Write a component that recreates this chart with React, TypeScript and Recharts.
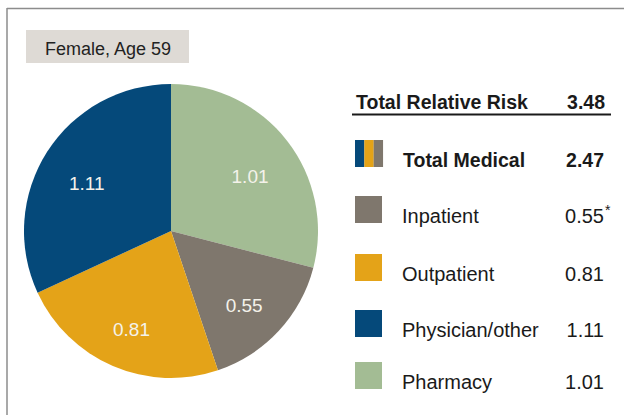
import React from "react";
import { PieChart, Pie, Cell } from "recharts";

const categories = ["Pharmacy", "Inpatient", "Outpatient", "Physician/other"];
const values = [1.01, 0.55, 0.81, 1.11];
const colors = ["#a3bc94", "#7f776d", "#e4a318", "#05497a"];
const legendOrder = ["Inpatient", "Outpatient", "Physician/other", "Pharmacy"];
const totalLabel = "Total Relative Risk";
const totalValue = "3.48";
const medicalLabel = "Total Medical";
const medicalValue = "2.47";
const medicalParts = ["Physician/other", "Outpatient", "Inpatient"];
const title = "Female, Age 59";

const data = categories.map((name, i) => ({ name, value: values[i] }));
const RAD = Math.PI / 180;
const FONT = "'Liberation Sans', Arial, Helvetica, sans-serif";

const renderLabel = (p: any) => {
  const r = p.outerRadius * 0.68;
  const x = p.cx + r * Math.cos(-p.midAngle * RAD);
  const y = p.cy + r * Math.sin(-p.midAngle * RAD);
  return (
    <text
      x={x}
      y={y + 13}
      fill="#f4f2ea"
      textAnchor="middle"
      fontSize={19}
      fontFamily={FONT}
    >
      {p.value.toFixed(2)}
    </text>
  );
};

export default function App() {
  const colorOf = (n: string) => colors[categories.indexOf(n)];
  const valueOf = (n: string) => values[categories.indexOf(n)];
  return (
    <div style={{ position: "relative", width: 624, height: 415, background: "#fff" }}>
      <style>{`body{margin:0}`}</style>
      <svg
        width={624}
        height={415}
        style={{ position: "absolute", left: 0, top: 0 }}
      >
        <line x1={7} y1={8.5} x2={624} y2={8.5} stroke="#8c8c8c" strokeWidth={1.5} />
        <line x1={7} y1={8} x2={7} y2={415} stroke="#8c8c8c" strokeWidth={1.5} />
        <rect x={26} y={30} width={163} height={33} fill="#dedad5" />
        <text x={45} y={55} fontSize={18} fontFamily={FONT} fill="#222">
          {title}
        </text>
      </svg>
      <div style={{ position: "absolute", left: 0, top: 0 }}>
        <PieChart width={624} height={415} margin={{ top: 0, right: 0, bottom: 0, left: 0 }}>
          <Pie
            data={data}
            dataKey="value"
            nameKey="name"
            cx={171}
            cy={231}
            outerRadius={147}
            startAngle={90}
            endAngle={-270}
            stroke="none"
            labelLine={false}
            label={renderLabel}
            isAnimationActive={false}
          >
            {data.map((d, i) => (
              <Cell key={d.name} fill={colors[i]} />
            ))}
          </Pie>
        </PieChart>
      </div>
      <svg
        width={624}
        height={415}
        style={{ position: "absolute", left: 0, top: 0 }}
        fontFamily={FONT}
      >
        <text x={356} y={109} fontSize={19.5} fontWeight="bold" fill="#1a1a1a">
          {totalLabel}
        </text>
        <text x={605} y={109} fontSize={19.5} fontWeight="bold" fill="#1a1a1a" textAnchor="end">
          {totalValue}
        </text>
        <line x1={352} y1={114.5} x2={611} y2={114.5} stroke="#1a1a1a" strokeWidth={2} />
        {medicalParts.map((n, i) => (
          <rect key={n} x={355 + i * 9.33} y={140} width={9.4} height={27} fill={colorOf(n)} />
        ))}
        <text x={403} y={167} fontSize={19.5} fontWeight="bold" fill="#1a1a1a">
          {medicalLabel}
        </text>
        <text x={604} y={167} fontSize={19.5} fontWeight="bold" fill="#1a1a1a" textAnchor="end">
          {medicalValue}
        </text>
        {legendOrder.map((n, i) => {
          const bottom = [223, 281, 337, 389][i];
          return (
            <g key={n}>
              <rect x={355} y={bottom - 27} width={27} height={27} fill={colorOf(n)} />
              <text x={402} y={bottom} fontSize={20} fill="#1a1a1a">
                {n}
              </text>
              <text x={604} y={bottom} fontSize={20} fill="#1a1a1a" textAnchor="end">
                {valueOf(n).toFixed(2)}
              </text>
              {n === "Inpatient" ? (
                <text x={605} y={bottom - 8} fontSize={14} fill="#1a1a1a">
                  *
                </text>
              ) : null}
            </g>
          );
        })}
      </svg>
    </div>
  );
}
